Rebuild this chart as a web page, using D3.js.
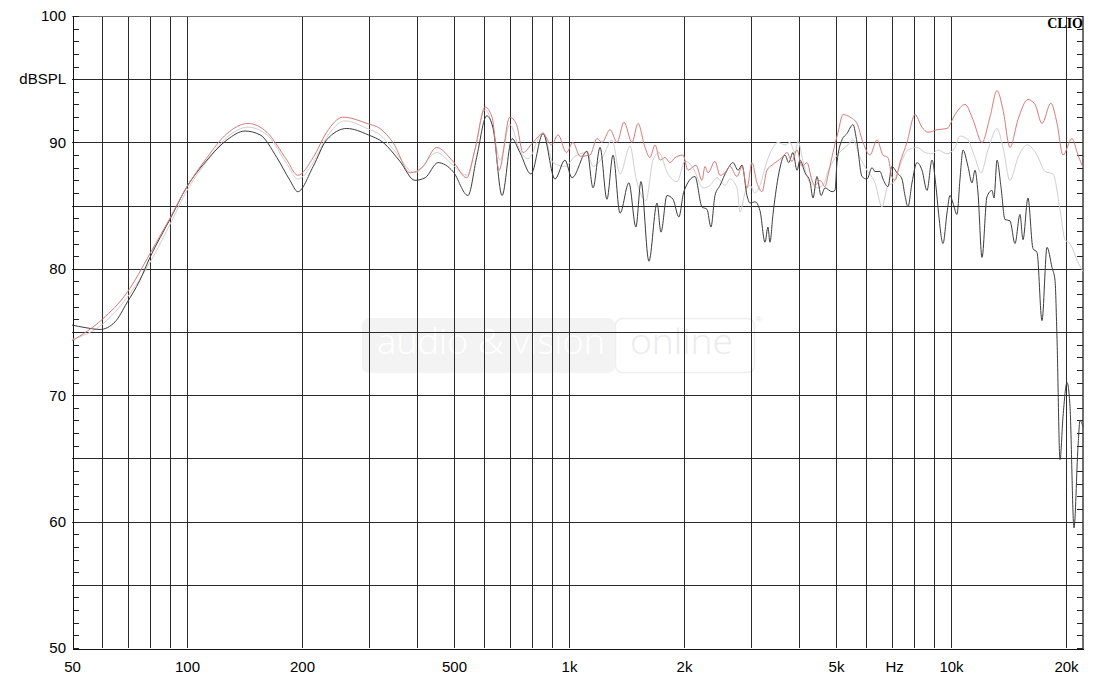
<!DOCTYPE html>
<html><head><meta charset="utf-8">
<script src="https://cdn.jsdelivr.net/npm/d3@7"></script>
<style>body{margin:0;background:#fff}svg{display:block}</style>
</head><body>
<svg id="c" width="1120" height="685"></svg>
<script>
// ---- data (frequency Hz, dB SPL) ----
const gridFreqs = [60,70,80,90,100,200,300,400,500,600,700,800,900,1000,2000,3000,4000,5000,6000,7000,8000,9000,10000,20000];
const gridDb = [55,60,65,70,75,80,85,90,95];
const xLabelValues = [50,100,200,500,1000,2000,5000,7100,10000,20000];
const xLabelTexts = ["50","100","200","500","1k","2k","5k","Hz","10k","20k"];
const yLabelValues = [50,60,70,80,90,100];
const yUnitLabel = "dBSPL";

const seriesBlack = [[50,75.55],[54.1,75.35],[59.2,75.2],[64.8,75.8],[69.6,77.3],[75.3,79.1],[80,80.9],[90.2,83.9],[100,86.5],[112.8,88.6],[127.3,90.2],[141.8,90.9],[155.3,90.6],[171.9,88.8],[186,87.0],[195,86.1],[214,88.1],[232,90.2],[262,91.1],[298,90.6],[326,90.0],[361,88.5],[395,87.0],[420,87.2],[454,88.4],[497,87.7],[544,85.8],[573,88.8],[609,92.1],[632,91.2],[668,85.8],[709,90.3],[744,89.2],[795,87.5],[855,90.7],[919,87.1],[976,88.6],[1018,87.2],[1115,89.3],[1156,86.4],[1206,89.6],[1257,85.5],[1304,89.0],[1360,84.4],[1435,86.8],[1497,83.3],[1543,86.9],[1619,80.6],[1700,85.2],[1741,82.9],[1805,85.8],[1872,85.5],[1939,84.1],[1998,86.1],[2137,87.3],[2229,84.9],[2298,84.7],[2353,83.3],[2411,85.8],[2485,86.6],[2592,87.8],[2688,88.4],[2770,87.8],[2838,88.2],[2924,85.8],[2977,85.2],[3068,85.3],[3162,84.6],[3260,82.1],[3318,83.3],[3358,82.1],[3420,84.3],[3525,87.2],[3677,89.0],[3760,88.4],[3858,89.2],[3953,87.8],[4024,88.6],[4148,87.6],[4275,86.9],[4352,85.6],[4459,87.3],[4568,85.8],[4680,86.4],[4881,86.1],[4970,86.2],[5030,88.4],[5184,90.2],[5342,90.7],[5539,91.4],[5674,90.0],[5848,87.3],[6027,87.1],[6211,88.0],[6324,87.7],[6518,87.7],[6637,87.1],[6840,86.5],[7000,88.1],[7222,87.6],[7442,87.1],[7578,85.8],[7716,84.9],[7905,86.8],[8147,88.4],[8396,87.8],[8653,86.2],[8918,88.6],[9135,86.5],[9278,84.4],[9530,82.0],[9761,84.4],[9940,85.8],[10121,85.2],[10368,84.3],[10558,87.1],[10750,89.4],[11079,88.1],[11349,86.8],[11556,87.8],[11768,86.0],[12056,80.9],[12422,85.7],[12806,86.2],[12960,85.6],[13198,88.6],[13514,86.5],[13845,83.9],[14268,83.8],[14707,82.0],[15157,84.3],[15433,82.3],[15904,85.6],[16393,81.6],[16795,81.3],[17307,75.9],[17838,81.7],[18385,80.1],[18720,79.1],[18950,74.4],[19292,64.9],[19644,68.3],[20124,71.0],[20490,69.1],[20989,59.5],[21502,65.9],[21763,68.0],[22160,67.5]];

const seriesRed = [[50,74.3],[60,76.0],[69.6,78.1],[80,81.2],[90.2,84.0],[100,86.5],[112.8,88.8],[127.3,90.7],[144.5,91.5],[161.9,90.8],[182.6,88.6],[195,87.4],[214,88.8],[232,90.8],[256,92.0],[296,91.5],[320,91.1],[346,90.0],[384,87.6],[415,88.1],[450,89.6],[497,88.5],[540,87.2],[567,89.4],[603,92.8],[629,92.0],[656,87.8],[700,92.0],[729,91.4],[758,89.2],[805,90.0],[855,90.7],[900,89.8],[936,90.6],[985,89.2],[1024,90.0],[1069,88.9],[1135,89.0],[1184,90.3],[1220,90.0],[1281,91.0],[1336,90.0],[1393,91.6],[1462,90.0],[1516,91.5],[1581,89.6],[1629,88.8],[1680,89.8],[1731,88.6],[1784,88.8],[1839,88.4],[1895,88.8],[1988,89.0],[2049,87.8],[2150,88.2],[2229,87.0],[2270,88.1],[2312,87.6],[2411,88.5],[2485,87.4],[2561,87.6],[2638,88.1],[2754,87.3],[2838,88.1],[2924,86.4],[3013,88.4],[3105,86.8],[3201,86.1],[3298,87.8],[3399,88.2],[3503,88.5],[3611,88.8],[3721,89.2],[3835,88.5],[3953,89.4],[4073,88.1],[4198,88.4],[4326,87.0],[4406,86.6],[4541,87.0],[4680,86.5],[4764,87.4],[4910,89.2],[5061,90.8],[5215,92.2],[5440,92.0],[5674,91.5],[5884,90.0],[6137,89.0],[6402,90.2],[6637,89.0],[6840,88.8],[7000,87.3],[7135,87.0],[7354,88.4],[7670,90.0],[8049,92.2],[8396,91.2],[8706,90.8],[9191,91.0],[9761,91.1],[10244,92.2],[10881,93.0],[11418,91.8],[12056,90.0],[12648,92.0],[13198,94.1],[13680,92.6],[14268,89.6],[14974,91.8],[15904,93.4],[16594,93.0],[17307,91.5],[18257,93.1],[18950,91.5],[19644,89.0],[20737,90.3],[21502,89.0],[22160,88.0]];

const seriesGray = [[50,74.4],[60,75.6],[69.6,77.7],[80,80.5],[90.2,83.5],[100,86.2],[112.8,88.5],[127.3,90.4],[144.5,91.2],[161.9,90.6],[182.6,88.3],[195,87.1],[214,88.4],[232,90.4],[259,91.7],[296,91.1],[320,90.6],[346,89.5],[395,87.6],[450,89.2],[497,88.2],[540,87.4],[567,89.4],[603,92.6],[632,91.2],[660,88.6],[700,91.4],[744,89.4],[781,88.7],[855,90.8],[908,88.4],[976,88.1],[1037,88.9],[1115,89.2],[1156,88.1],[1227,88.9],[1296,90.2],[1360,87.5],[1445,89.7],[1497,87.2],[1590,85.4],[1659,88.6],[1719,89.2],[1816,87.5],[1918,86.9],[2012,88.5],[2112,88.0],[2243,86.4],[2339,86.6],[2440,87.2],[2561,86.6],[2638,87.1],[2754,86.4],[2804,84.5],[2888,86.0],[2977,86.6],[3068,86.0],[3162,86.6],[3298,88.5],[3420,89.6],[3525,90.0],[3677,89.8],[3789,90.0],[3905,89.2],[3976,90.1],[4099,88.5],[4198,87.3],[4352,86.6],[4485,86.4],[4623,86.6],[4764,87.7],[4910,88.5],[5184,89.4],[5375,89.8],[5539,90.2],[5778,88.8],[6027,87.8],[6324,86.8],[6598,84.9],[6840,86.6],[7050,86.8],[7354,88.2],[7716,89.4],[8147,89.6],[8549,89.2],[8918,89.1],[9247,89.4],[9761,89.1],[10244,89.6],[10558,90.5],[11013,90.3],[11556,88.8],[11981,87.6],[12497,89.4],[13198,91.1],[13680,89.6],[14268,87.0],[14974,88.8],[15812,89.8],[16795,89.0],[17625,87.7],[18493,87.5],[19292,84.7],[19881,82.3],[20490,82.0],[21502,80.5],[22160,79.8]];

// ---- layout ----
const L = 72, R = 1083, T = 16, B = 648;
const svg = d3.select("#c");
const x = d3.scaleLog().domain([50, 22160]).range([L, R]);
const y = d3.scaleLinear().domain([50, 100]).range([B, T]);
const FONT = "'Liberation Sans', Arial, sans-serif";

// watermark
const wm = svg.append("g");
wm.append("rect").attr("x",362).attr("y",318).attr("width",253).attr("height",55).attr("rx",7).attr("fill","#f3f3f3");
wm.append("rect").attr("x",615.5).attr("y",318.5).attr("width",139).attr("height",54).attr("rx",7).attr("fill","none").attr("stroke","#eeeeee").attr("stroke-width",1.5);
wm.append("text").attr("x",377).attr("y",354).attr("font-family","'Open Sans', sans-serif").attr("font-weight",300).attr("font-size",35).attr("fill","#ffffff").attr("textLength",228).attr("lengthAdjust","spacingAndGlyphs").text("audio & vision");
wm.append("text").attr("x",630).attr("y",354).attr("font-family","'Open Sans', sans-serif").attr("font-weight",300).attr("font-size",35).attr("fill","#ebebeb").attr("textLength",103).attr("lengthAdjust","spacingAndGlyphs").text("online");
wm.append("text").attr("x",756).attr("y",322).attr("font-family",FONT).attr("font-size",8).attr("fill","#e6e6e6").text("®");

// grid
const grid = svg.append("g").attr("shape-rendering","crispEdges");
grid.selectAll("line.v").data(gridFreqs).join("line")
  .attr("x1",d=>Math.round(x(d))+0.5).attr("x2",d=>Math.round(x(d))+0.5)
  .attr("y1",T).attr("y2",B).attr("stroke","#2a2a2a").attr("stroke-width",1);
grid.selectAll("line.h").data(gridDb).join("line")
  .attr("y1",d=>Math.round(y(d))+0.5).attr("y2",d=>Math.round(y(d))+0.5)
  .attr("x1",L).attr("x2",R).attr("stroke","#2a2a2a").attr("stroke-width",1);

// frame
svg.append("line").attr("x1",L).attr("x2",R).attr("y1",T+0.5).attr("y2",T+0.5).attr("stroke","#6e6e6e").attr("shape-rendering","crispEdges");
svg.append("line").attr("x1",R-0.5).attr("x2",R-0.5).attr("y1",T).attr("y2",B).attr("stroke","#6e6e6e").attr("shape-rendering","crispEdges");

// minor ticks via axes
const dbTicks = d3.range(50, 101, 1);
const leftTicks = svg.append("g").attr("transform",`translate(${L+0.5},0)`)
  .call(d3.axisLeft(y).tickValues(dbTicks).tickSize(-6).tickFormat(""));
const rightTicks = svg.append("g").attr("transform",`translate(${R-0.5},0)`)
  .call(d3.axisRight(y).tickValues(dbTicks).tickSize(-6).tickFormat(""));
[leftTicks,rightTicks].forEach(g=>{
  g.attr("shape-rendering","crispEdges");
  g.selectAll("line").attr("stroke","#222");
  g.select(".domain").attr("stroke","#111");
});
rightTicks.select(".domain").attr("stroke","#6e6e6e");

// y labels
const yLab = svg.append("g").attr("transform",`translate(${L},0)`)
  .call(d3.axisLeft(y).tickValues(yLabelValues).tickSize(0).tickPadding(6).tickFormat(d3.format("d")));
yLab.select(".domain").remove();
yLab.selectAll("text").attr("font-family",FONT).attr("font-size",15).attr("fill","#000");
svg.append("text").attr("x",L-6).attr("y",y(95)).attr("dy","0.32em").attr("text-anchor","end")
  .attr("font-family",FONT).attr("font-size",15).attr("fill","#000").text(yUnitLabel);

// x axis + labels
const xAx = svg.append("g").attr("transform",`translate(0,${B+0.5})`)
  .call(d3.axisBottom(x).tickValues(xLabelValues).tickSize(0).tickPadding(13).tickFormat((d,i)=>xLabelTexts[i]));
xAx.attr("shape-rendering","crispEdges");
xAx.select(".domain").attr("stroke","#111");
xAx.selectAll("text").attr("font-family",FONT).attr("font-size",15).attr("fill","#000");

// curves
const line = d3.line().x(d=>x(d[0])).y(d=>y(d[1])).curve(d3.curveMonotoneX);
const curves = svg.append("g").attr("fill","none").attr("stroke-linejoin","round");
curves.append("path").datum(seriesGray).attr("d",line).attr("stroke","#cfcfcf").attr("stroke-width",1);
curves.append("path").datum(seriesBlack).attr("d",line).attr("stroke","#3c3c3c").attr("stroke-width",1);
curves.append("path").datum(seriesRed).attr("d",line).attr("stroke","#d77a7a").attr("stroke-width",1);

// CLIO logo
svg.append("text").attr("x",R).attr("y",28).attr("text-anchor","end")
  .attr("font-family","'Liberation Serif', 'Times New Roman', serif").attr("font-weight","bold")
  .attr("font-size",14).attr("fill","#000").text("CLIO");
</script>
</body></html>
